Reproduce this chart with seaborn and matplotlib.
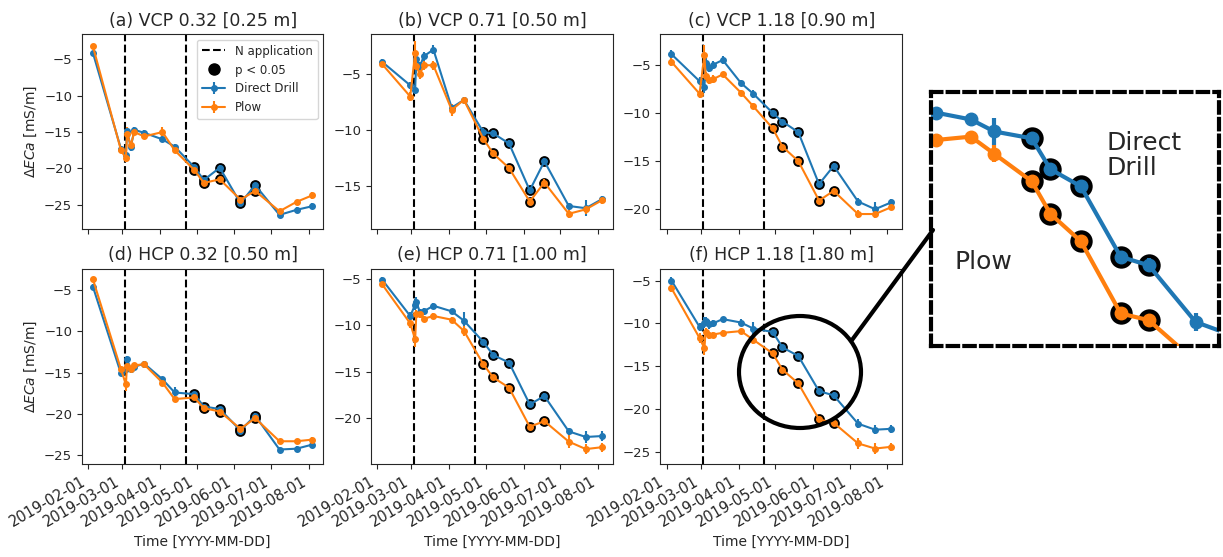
import numpy as np
import pandas as pd
import matplotlib
matplotlib.use('Agg')
import matplotlib.pyplot as plt
import matplotlib.dates as mdates
from matplotlib.ticker import MultipleLocator
from matplotlib.patches import Ellipse
from matplotlib.lines import Line2D
import seaborn as sns

sns.set_style('ticks')
plt.rcParams['font.family'] = ['DejaVu Sans']
plt.rcParams['xtick.labelsize'] = 10.5
plt.rcParams['ytick.labelsize'] = 9.5

# survey dates
dates = pd.to_datetime(['2019-02-05', '2019-02-28', '2019-03-04', '2019-03-05', '2019-03-08',
                        '2019-03-11', '2019-03-19', '2019-04-03', '2019-04-13', '2019-04-29',
                        '2019-05-07', '2019-05-20', '2019-06-06', '2019-06-18', '2019-07-08',
                        '2019-07-22', '2019-08-04'])
n_app = pd.to_datetime(['2019-03-03', '2019-04-22'])
sig_dates = pd.to_datetime(['2019-04-29', '2019-05-07', '2019-05-20', '2019-06-06', '2019-06-18'])

# (a) VCP 0.32
a_dd = [-4.1, -17.3, -18.2, -14.8, -17.1, -14.7, -15.1, -16.0, -17.0, -19.8, -21.6, -19.9, -24.8, -22.3, -26.4, -25.7, -25.2]
a_pl = [-3.2, -17.5, -18.6, -15.2, -16.8, -15.0, -15.6, -15.0, -17.5, -20.2, -22.0, -21.5, -24.3, -23.1, -25.9, -24.6, -23.7]
a_dd_err = [0.3, 0.4, 0.5, 0.5, 0.5, 0.4, 0.4, 0.3, 0.3, 0.3, 0.3, 0.3, 0.3, 0.3, 0.3, 0.4, 0.4]
a_pl_err = [0.3, 0.4, 0.5, 0.9, 0.5, 0.4, 0.4, 0.7, 0.3, 0.3, 0.3, 0.3, 0.3, 0.3, 0.3, 0.3, 0.5]
# (b) VCP 0.71
b_dd = [-3.9, -6.0, -6.4, -3.6, -4.3, -3.4, -2.8, -8.0, -7.3, -10.2, -10.3, -11.2, -15.4, -12.8, -16.8, -17.0, -16.2]
b_pl = [-4.1, -7.0, -3.1, -4.3, -5.0, -4.2, -4.2, -8.2, -7.3, -10.8, -12.1, -13.4, -16.4, -14.7, -17.5, -17.1, -16.3]
b_dd_err = [0.3, 0.3, 0.4, 0.5, 0.4, 0.4, 0.4, 0.3, 0.3, 0.4, 0.3, 0.3, 0.3, 0.3, 0.3, 0.7, 0.3]
b_pl_err = [0.3, 0.4, 1.1, 0.6, 0.4, 0.4, 0.4, 0.5, 0.3, 0.3, 0.3, 0.3, 0.3, 0.3, 0.4, 0.4, 0.3]
# (c) VCP 1.18
c_dd = [-3.9, -6.7, -7.3, -4.8, -5.3, -5.0, -4.5, -6.9, -8.0, -10.0, -10.9, -12.0, -17.4, -15.5, -19.2, -20.0, -19.3]
c_pl = [-4.7, -8.0, -4.0, -6.2, -6.6, -6.5, -6.0, -7.9, -9.3, -11.6, -13.5, -15.0, -19.1, -18.1, -20.5, -20.5, -19.8]
c_dd_err = [0.4, 0.4, 0.6, 0.5, 0.5, 0.4, 0.4, 0.3, 0.4, 0.3, 0.3, 0.3, 0.3, 0.3, 0.4, 0.7, 0.4]
c_pl_err = [0.4, 0.5, 1.1, 0.5, 0.4, 0.4, 0.3, 0.3, 0.3, 0.3, 0.3, 0.3, 0.3, 0.3, 0.4, 0.4, 0.3]
# (d) HCP 0.32
d_dd = [-4.6, -15.1, -14.5, -13.4, -14.6, -14.3, -13.9, -15.8, -17.4, -17.6, -19.1, -19.4, -22.0, -20.2, -24.3, -24.2, -23.7]
d_pl = [-3.7, -14.6, -16.4, -14.2, -14.5, -14.1, -14.0, -16.2, -18.2, -18.0, -19.3, -19.7, -21.8, -20.5, -23.3, -23.3, -23.1]
d_dd_err = [0.3, 0.3, 0.4, 0.4, 0.4, 0.3, 0.3, 0.3, 0.7, 0.3, 0.3, 0.3, 0.3, 0.3, 0.3, 0.3, 0.3]
d_pl_err = [0.3, 0.4, 0.8, 0.4, 0.3, 0.3, 0.3, 0.3, 0.3, 0.3, 0.3, 0.3, 0.3, 0.3, 0.3, 0.3, 0.3]
# (e) HCP 0.71
e_dd = [-5.1, -9.0, -7.8, -7.5, -8.6, -8.5, -7.9, -8.5, -9.5, -11.8, -13.2, -14.0, -18.5, -17.6, -21.4, -22.0, -21.9]
e_pl = [-5.6, -9.8, -11.5, -8.8, -8.8, -9.3, -9.0, -9.4, -10.6, -14.2, -15.6, -16.7, -20.9, -20.3, -22.5, -23.3, -23.1]
e_dd_err = [0.3, 0.4, 0.6, 0.5, 0.4, 0.4, 0.3, 0.3, 0.9, 0.3, 0.3, 0.3, 0.3, 0.3, 0.4, 0.6, 0.5]
e_pl_err = [0.3, 0.5, 0.8, 0.4, 0.4, 0.3, 0.3, 0.3, 0.5, 0.3, 0.3, 0.3, 0.3, 0.3, 0.7, 0.5, 0.5]
# (f) HCP 1.18
f_dd = [-5.0, -10.4, -9.9, -9.7, -10.1, -10.0, -9.5, -9.9, -10.6, -11.0, -12.8, -13.8, -17.9, -18.4, -21.7, -22.4, -22.3]
f_pl = [-5.9, -11.7, -12.9, -11.0, -11.4, -11.3, -11.1, -10.9, -11.9, -13.5, -15.4, -17.0, -21.2, -21.6, -24.0, -24.6, -24.4]
f_dd_err = [0.4, 0.5, 0.6, 0.5, 0.5, 0.4, 0.3, 0.4, 0.8, 0.3, 0.3, 0.3, 0.3, 0.4, 0.5, 0.5, 0.5]
f_pl_err = [0.4, 0.6, 0.8, 0.5, 0.4, 0.3, 0.3, 0.3, 0.5, 0.3, 0.3, 0.3, 0.3, 0.3, 0.6, 0.6, 0.5]

titles = ['(a) VCP 0.32 [0.25 m]', '(b) VCP 0.71 [0.50 m]', '(c) VCP 1.18 [0.90 m]',
          '(d) HCP 0.32 [0.50 m]', '(e) HCP 0.71 [1.00 m]', '(f) HCP 1.18 [1.80 m]']
ylims = [(-28.4, -1.5), (-18.9, -1.4), (-22.1, -1.8), (-26.05, -2.4), (-24.9, -3.9), (-26.4, -3.6)]

panels = [(a_dd, a_dd_err, a_pl, a_pl_err), (b_dd, b_dd_err, b_pl, b_pl_err),
          (c_dd, c_dd_err, c_pl, c_pl_err), (d_dd, d_dd_err, d_pl, d_pl_err),
          (e_dd, e_dd_err, e_pl, e_pl_err), (f_dd, f_dd_err, f_pl, f_pl_err)]

pal = sns.color_palette('tab10')
c_dd_col, c_pl_col = pal[0], pal[1]


def draw(ax, dd, dd_err, pl, pl_err, lw=1.5, ms=4, sig_s=60, elw=1.5):
    n = len(dates)
    df = pd.DataFrame({'date': list(dates) * 2, 'val': dd + pl, 'err': dd_err + pl_err,
                       'tr': ['Direct Drill'] * n + ['Plow'] * n})
    sig = df[df['date'].isin(sig_dates)]
    sns.scatterplot(data=sig, x='date', y='val', color='k', s=sig_s, linewidth=0,
                    ax=ax, legend=False, zorder=1.5)
    hs = []
    for tr, col in [('Direct Drill', c_dd_col), ('Plow', c_pl_col)]:
        sub = df[df['tr'] == tr]
        h = ax.errorbar(sub['date'], sub['val'], yerr=sub['err'], fmt='-o', color=col,
                        ms=ms, lw=lw, elinewidth=elw, label=tr, zorder=2)
        hs.append(h)
    ax.set_xlabel('')
    ax.set_ylabel('')
    return hs


fig, axes = plt.subplots(2, 3, figsize=(12.23, 5.57), dpi=100, sharex=True)
fig.subplots_adjust(left=0.067, right=0.7375, top=0.939, bottom=0.167, wspace=0.198, hspace=0.2)

for i, ax in enumerate(axes.flat):
    dd, dd_err, pl, pl_err = panels[i]
    hs = draw(ax, dd, dd_err, pl, pl_err)
    for d in n_app:
        ax.axvline(d, color='k', ls='--', lw=1.5, zorder=1)
    ax.set_title(titles[i], fontsize=12.5)
    ax.set_ylim(ylims[i])
    ax.yaxis.set_major_locator(MultipleLocator(5))
    ax.xaxis.set_major_locator(mdates.MonthLocator())
    ax.xaxis.set_major_formatter(mdates.DateFormatter('%Y-%m-%d'))
    if i % 3 == 0:
        ax.set_ylabel('$\\Delta ECa$ [mS/m]', fontsize=10)
    if i >= 3:
        ax.set_xlabel('Time [YYYY-MM-DD]', fontsize=10)
        plt.setp(ax.get_xticklabels(), rotation=30, ha='right')
    if i == 0:
        handles = [Line2D([], [], color='k', ls='--', lw=1.5),
                   Line2D([], [], color='k', marker='o', ls='none', ms=8),
                   hs[0], hs[1]]
        ax.legend(handles, ['N application', 'p < 0.05', 'Direct Drill', 'Plow'],
                  loc='upper right', fontsize=8.5)

# zoom of panel (f)
W, H = 1223, 557
ax_in = fig.add_axes([931 / W, 1 - 346 / H, 288 / W, 254 / H])
draw(ax_in, f_dd, f_dd_err, f_pl, f_pl_err, lw=3, ms=9, sig_s=260, elw=3)
ax_in.set_xlim(pd.Timestamp('2019-03-17'), pd.Timestamp('2019-07-18'))
ax_in.set_ylim(-23.1, -8.3)
ax_in.set_xticks([])
ax_in.set_yticks([])
for sp in ax_in.spines.values():
    sp.set_linestyle((0, (2.5, 1.5)))
    sp.set_linewidth(3)
    sp.set_color('k')
ax_in.text(0.61, 0.75, 'Direct\nDrill', transform=ax_in.transAxes, fontsize=18,
           ha='left', va='center', linespacing=1.1)
ax_in.text(0.083, 0.33, 'Plow', transform=ax_in.transAxes, fontsize=18,
           ha='left', va='center')

fig.add_artist(Ellipse((800 / W, 1 - 372 / H), 122 / W, 112 / H, transform=fig.transFigure,
                       fill=False, lw=3, ec='k'))
fig.add_artist(Line2D([852 / W, 933 / W], [1 - 340 / H, 1 - 230 / H], transform=fig.transFigure,
                      color='k', lw=3))

fig.savefig('out.png', dpi=100)
